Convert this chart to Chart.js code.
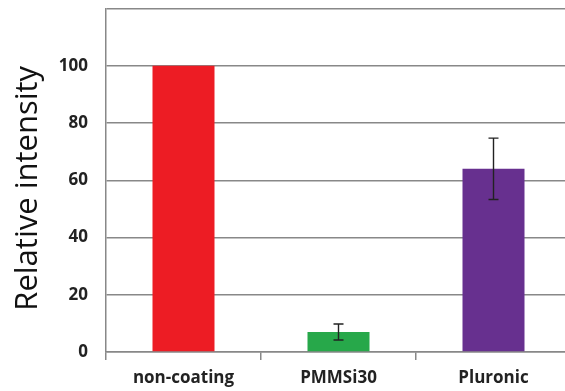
<!DOCTYPE html>
<html>
<head>
<meta charset="utf-8">
<script src="https://cdn.jsdelivr.net/npm/chart.js@4.4.0/dist/chart.umd.min.js"></script>
<style>
  html, body { margin: 0; padding: 0; background: #fff; overflow: hidden; }
  #chart { display: block; }
</style>
</head>
<body>
<canvas id="chart" width="571" height="391"></canvas>
<script>
// data
let categories = ['non-coating', 'PMMSi30', 'Pluronic'];
let intensity = [100, 7, 64];
let errors = [0, 2.8, 10.7];
let barColors = ['#ED1C24', '#27A84A', '#67308F'];

// error bars drawn through the y scale
const errorBars = {
    id: 'errorBars',
    afterDatasetsDraw(chart) {
        const ctx = chart.ctx;
        const yScale = chart.scales.y;
        const meta = chart.getDatasetMeta(0);
        ctx.save();
        ctx.strokeStyle = '#222';
        ctx.lineWidth = 1.4;
        meta.data.forEach((bar, i) => {
            if (!errors[i]) return;
            const x = bar.x;
            const top = yScale.getPixelForValue(intensity[i] + errors[i]);
            const bottom = yScale.getPixelForValue(intensity[i] - errors[i]);
            ctx.beginPath();
            ctx.moveTo(x, top);
            ctx.lineTo(x, bottom);
            ctx.moveTo(x - 5, top);
            ctx.lineTo(x + 5, top);
            ctx.moveTo(x - 5, bottom);
            ctx.lineTo(x + 5, bottom);
            ctx.stroke();
        });
        ctx.restore();
    }
};

let ctx = document.getElementById('chart').getContext('2d');
let myChart = new Chart(ctx, {
    type: 'bar',
    data: {
        labels: categories,
        datasets: [{
            data: intensity,
            backgroundColor: barColors,
            barPercentage: 0.4,
            categoryPercentage: 1
        }]
    },
    options: {
        responsive: false,
        animation: false,
        layout: { padding: { top: 0, right: 0, left: 0, bottom: 0 } },
        plugins: {
            legend: { display: false },
            tooltip: { enabled: false }
        },
        scales: {
            x: {
                afterFit: (scale) => { scale.height = 39; },
                grid: {
                    offset: true,
                    drawOnChartArea: false,
                    drawTicks: true,
                    tickLength: 8,
                    color: '#888',
                    lineWidth: 1.5
                },
                border: { color: '#888', width: 1.5 },
                ticks: {
                    padding: 8,
                    color: '#222',
                    font: { family: 'Open Sans', size: 17, weight: 'bold' }
                }
            },
            y: {
                min: 0,
                max: 120,
                afterFit: (scale) => { scale.width = 106; },
                grid: {
                    drawTicks: true,
                    tickLength: 18,
                    tickColor: 'rgba(0,0,0,0)',
                    color: '#888',
                    lineWidth: 1.5
                },
                border: { color: '#888', width: 1.5 },
                ticks: {
                    stepSize: 20,
                    padding: 0,
                    color: '#222',
                    font: { family: 'Open Sans', size: 17, weight: 'bold', lineHeight: 1 },
                    callback: (value) => value > 100 ? '' : value
                },
                title: {
                    display: true,
                    text: 'Relative intensity  ',
                    color: '#111',
                    padding: { top: 10, bottom: 0 },
                    font: { family: 'Open Sans', size: 31 }
                }
            }
        }
    },
    plugins: [errorBars]
});
</script>
</body>
</html>
